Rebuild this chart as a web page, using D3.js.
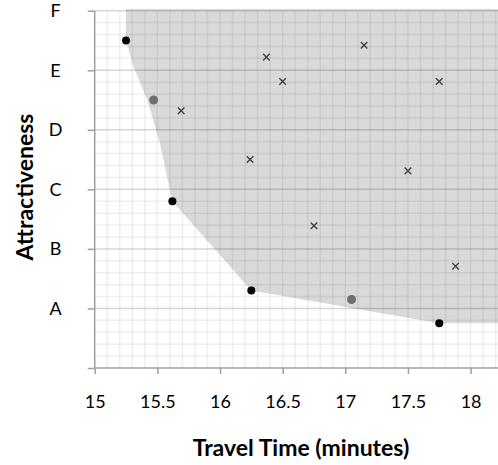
<!DOCTYPE html>
<html>
<head>
<meta charset="utf-8">
<script src="https://cdn.jsdelivr.net/npm/d3@7"></script>
<style>
  body { margin: 0; background: #fff; }
  svg { display: block; font-family: Lato, "Open Sans", sans-serif; }
</style>
</head>
<body>
<div id="chart"></div>
<script>
// attractiveness levels, A..F sit on 1..6
var levels = ["A", "B", "C", "D", "E", "F"];
var xTicks = [15, 15.5, 16, 16.5, 17, 17.5, 18];

// travel time (t) vs attractiveness (a)
var frontier = [
  {t: 15.25, a: 5.5},
  {t: 15.62, a: 2.8},
  {t: 16.25, a: 1.3},
  {t: 17.75, a: 0.75}
];
var nearFrontier = [
  {t: 15.47, a: 4.5},
  {t: 17.05, a: 1.15}
];
var dominated = [
  {t: 15.69, a: 4.32},
  {t: 16.37, a: 5.22},
  {t: 16.5,  a: 4.81},
  {t: 17.15, a: 5.42},
  {t: 17.75, a: 4.81},
  {t: 16.24, a: 3.5},
  {t: 17.5,  a: 3.31},
  {t: 16.75, a: 2.39},
  {t: 17.88, a: 1.71}
];
// outline of the shaded (dominated) region
var shadeEdge = [
  {t: 15.25, a: 6.03},
  {t: 15.25, a: 5.5},
  {t: 15.31, a: 5.06},
  {t: 15.42, a: 4.5},
  {t: 15.52, a: 3.78},
  {t: 15.62, a: 2.8},
  {t: 16.25, a: 1.3},
  {t: 17.75, a: 0.75},
  {t: 18.4,  a: 0.75},
  {t: 18.4,  a: 6.03}
];

var W = 498, H = 465;
var mLeft = 94.7, mTop = 10.7, mBottom = 368;

var x = d3.scaleLinear().domain([15, 18.3]).range([mLeft, mLeft + 3.3 * 125.3]);
var y = d3.scaleLinear().domain([0, 6]).range([mBottom, mTop]);

var svg = d3.select("#chart").append("svg")
  .attr("width", W)
  .attr("height", H);

var plot = svg.append("g");

// shaded region first, grid goes over it
plot.append("path")
  .datum(shadeEdge)
  .attr("fill", "#d9d9d9")
  .attr("d", d3.line().x(function(d) { return x(d.t); }).y(function(d) { return y(d.a); }));

var xMinor = d3.range(151, 184).map(function(i) { return i / 10; });
var yMinor = d3.range(1, 31).map(function(i) { return i / 5; });

plot.append("g").selectAll("line")
  .data(xMinor)
  .join("line")
  .attr("x1", function(d) { return x(d); })
  .attr("x2", function(d) { return x(d); })
  .attr("y1", y(0))
  .attr("y2", y(6))
  .attr("stroke", "rgba(0,0,0,0.062)")
  .attr("stroke-width", 1.5);

plot.append("g").selectAll("line")
  .data(yMinor)
  .join("line")
  .attr("x1", x(15))
  .attr("x2", W)
  .attr("y1", function(d) { return y(d); })
  .attr("y2", function(d) { return y(d); })
  .attr("stroke", function(d) { return Math.abs(d - Math.round(d)) < 1e-6 ? "rgba(0,0,0,0.16)" : "rgba(0,0,0,0.062)"; })
  .attr("stroke-width", 1.5);

// axes
var yAxis = d3.axisLeft(y)
  .tickValues([0, 1, 2, 3, 4, 5, 6])
  .tickSize(7)
  .tickFormat(function(d) { return d === 0 ? "" : levels[d - 1]; });

var gy = svg.append("g")
  .attr("transform", "translate(" + mLeft + ",0)")
  .call(yAxis);
gy.selectAll("text")
  .attr("x", 55.5 - mLeft)
  .attr("text-anchor", "middle");

var xAxis = d3.axisBottom(x)
  .tickValues(xTicks)
  .tickSize(6)
  .tickPadding(21)
  .tickFormat(d3.format("~g"));

var gx = svg.append("g")
  .attr("transform", "translate(0," + mBottom + ")")
  .call(xAxis);

svg.selectAll(".domain").remove();
svg.selectAll(".tick line").attr("stroke", "#a0a0a0").attr("stroke-width", 1.5);
svg.selectAll(".tick text")
  .attr("fill", "#000")
  .style("font-size", "18px")
  .style("font-family", "Lato, sans-serif");

svg.append("line")
  .attr("x1", mLeft).attr("x2", mLeft)
  .attr("y1", mTop).attr("y2", mBottom)
  .attr("stroke", "#a0a0a0").attr("stroke-width", 1.5);
svg.append("line")
  .attr("x1", mLeft).attr("x2", W)
  .attr("y1", mBottom).attr("y2", mBottom)
  .attr("stroke", "#a0a0a0").attr("stroke-width", 1.5);

// markers
plot.append("g").selectAll("path")
  .data(dominated)
  .join("path")
  .attr("transform", function(d) { return "translate(" + x(d.t) + "," + y(d.a) + ")"; })
  .attr("d", d3.symbol(d3.symbolX, 30))
  .attr("fill", "none")
  .attr("stroke", "#404040")
  .attr("stroke-width", 1.4);

plot.append("g").selectAll("circle")
  .data(nearFrontier)
  .join("circle")
  .attr("cx", function(d) { return x(d.t); })
  .attr("cy", function(d) { return y(d.a); })
  .attr("r", 4.5)
  .attr("fill", "#6e6e6e");

plot.append("g").selectAll("circle")
  .data(frontier)
  .join("circle")
  .attr("cx", function(d) { return x(d.t); })
  .attr("cy", function(d) { return y(d.a); })
  .attr("r", 4)
  .attr("fill", "#000");

// axis titles
svg.append("text")
  .attr("x", 301)
  .attr("y", 456)
  .attr("text-anchor", "middle")
  .style("font-size", "23px")
  .style("font-weight", "bold")
  .text("Travel Time (minutes)");

svg.append("text")
  .attr("transform", "translate(33,187) rotate(-90)")
  .attr("text-anchor", "middle")
  .style("font-size", "23px")
  .style("font-weight", "bold")
  .text("Attractiveness");
</script>
</body>
</html>
